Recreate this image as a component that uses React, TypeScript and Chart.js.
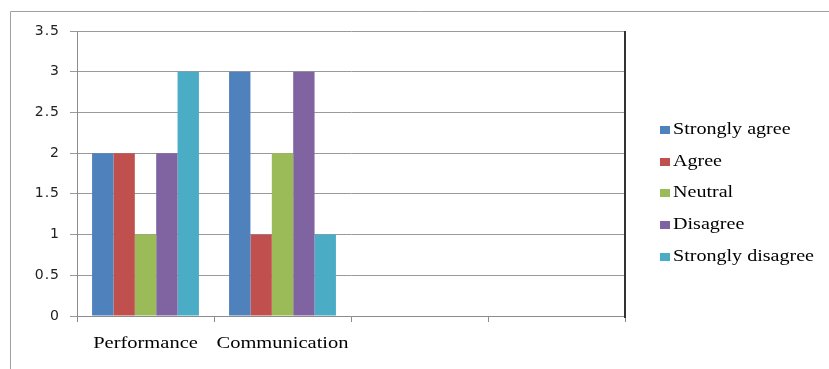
import React, { useEffect, useRef } from "react";
import { Chart, registerables } from "chart.js";

Chart.register(...registerables);

const categories = ["Performance", "Communication", "", ""];
const seriesNames = ["Strongly agree", "Agree", "Neutral", "Disagree", "Strongly disagree"];
const stronglyAgree = [2, 3];
const agree = [2, 1];
const neutral = [1, 2];
const disagree = [2, 3];
const stronglyDisagree = [3, 1];
const seriesColors = ["#4F81BD", "#C0504D", "#9BBB59", "#8064A2", "#4BACC6"];
const yMin = 0;
const yMax = 3.5;
const yStep = 0.5;

const W = 829;
const H = 369;
const SERIF = "16px 'Liberation Serif', 'DejaVu Serif', serif";
const STRETCH = 1.28;

const decorPlugin = {
  id: "decor",
  beforeDraw(chart: any) {
    (chart.ctx as any).letterSpacing = "1px";
  },
  afterDraw(chart: any) {
    const ctx = chart.ctx;
    const a = chart.chartArea;
    ctx.save();
    (ctx as any).letterSpacing = "0px";
    // outer frame
    ctx.strokeStyle = "#a0a0a0";
    ctx.lineWidth = 1;
    ctx.beginPath();
    ctx.moveTo(10.5, H);
    ctx.lineTo(10.5, 11.5);
    ctx.lineTo(W, 11.5);
    ctx.stroke();
    // right dark line
    ctx.strokeStyle = "#333333";
    ctx.lineWidth = 2;
    ctx.beginPath();
    ctx.moveTo(a.right, a.top);
    ctx.lineTo(a.right, a.bottom + 2);
    ctx.stroke();

    ctx.font = SERIF;
    ctx.fillStyle = "#000000";
    ctx.textBaseline = "alphabetic";

    // category labels (positions from the x scale)
    const xs = chart.scales.x;
    chart.data.labels.forEach((lab: string, i: number) => {
      if (!lab) return;
      const cx = xs.getPixelForValue(i);
      ctx.save();
      ctx.translate(cx, a.bottom + 32);
      ctx.scale(STRETCH, 1);
      ctx.textAlign = "center";
      ctx.fillText(lab, 0, 0);
      ctx.restore();
    });

    // legend
    const x0 = 660;
    chart.data.datasets.forEach((ds: any, i: number) => {
      const base = 134 + i * 31.7;
      ctx.fillStyle = ds.backgroundColor;
      ctx.fillRect(x0, Math.round(base - 8), 10, 8);
      ctx.fillStyle = "#000000";
      ctx.save();
      ctx.translate(x0 + 13, base);
      ctx.scale(STRETCH * 0.98, 1);
      ctx.textAlign = "left";
      ctx.fillText(ds.label, 0, 0);
      ctx.restore();
    });
    ctx.restore();
  },
};

export default function App() {
  const ref = useRef<HTMLCanvasElement | null>(null);
  useEffect(() => {
    document.body.style.margin = "0";
    const values = [stronglyAgree, agree, neutral, disagree, stronglyDisagree];
    const chart = new Chart(ref.current as HTMLCanvasElement, {
      type: "bar",
      data: {
        labels: categories,
        datasets: seriesNames.map((name, i) => ({
          label: name,
          data: values[i],
          backgroundColor: seriesColors[i],
          borderWidth: 0,
          barPercentage: 1,
          categoryPercentage: 0.78,
        })),
      },
      options: {
        animation: false,
        responsive: false,
        devicePixelRatio: 1,
        layout: { padding: { left: 0, right: 204, top: 31, bottom: 0 } },
        plugins: { legend: { display: false }, tooltip: { enabled: false } },
        scales: {
          x: {
            grid: {
              offset: true,
              drawOnChartArea: false,
              drawTicks: true,
              tickLength: 6,
              color: "#8c8c8c",
            },
            border: { color: "#8c8c8c", width: 1 },
            ticks: {
              color: "rgba(0,0,0,0)",
              padding: 11,
              maxRotation: 0,
              autoSkip: false,
              font: { family: "'Liberation Serif', serif", size: 16 },
            },
            afterFit: (s: any) => {
              s.height = 53;
            },
          },
          y: {
            min: yMin,
            max: yMax,
            ticks: {
              stepSize: yStep,
              color: "#222222",
              padding: 10,
              font: { family: "'DejaVu Sans', sans-serif", size: 14 },
              callback: (v: any) => String(Number(v)),
            },
            grid: { color: "#9a9a9a", tickLength: 7, lineWidth: 1 },
            border: { color: "#8c8c8c", width: 1 },
            afterFit: (s: any) => {
              s.width = 77;
            },
          },
        },
      },
      plugins: [decorPlugin],
    });
    return () => chart.destroy();
  }, []);
  return (
    <div style={{ position: "absolute", left: 0, top: 0, width: W, height: H, background: "#fff" }}>
      <canvas ref={ref} width={W} height={H} />
    </div>
  );
}
